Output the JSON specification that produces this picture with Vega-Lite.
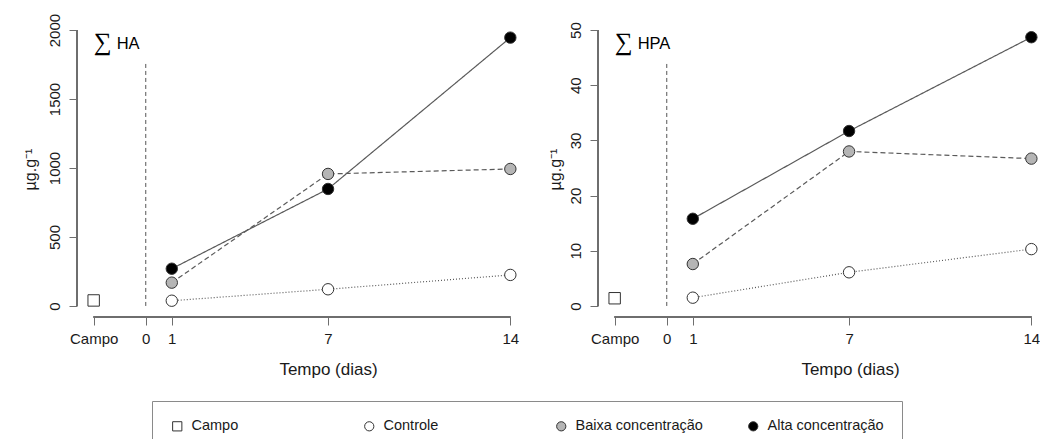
{
  "$schema": "https://vega.github.io/schema/vega-lite/v6.json",
  "background": "white",
  "padding": {"left": 22, "top": 13, "right": 0, "bottom": 0},
  "bounds": "flush",
  "spacing": 71,
  "datasets": {
    "medidas": [
      {"painel": "HA", "grupo": "Campo", "dia": -2, "valor": 40},
      {"painel": "HA", "grupo": "Controle", "dia": 1, "valor": 38},
      {"painel": "HA", "grupo": "Controle", "dia": 7, "valor": 121},
      {"painel": "HA", "grupo": "Controle", "dia": 14, "valor": 225},
      {"painel": "HA", "grupo": "Baixa concentração", "dia": 1, "valor": 169},
      {"painel": "HA", "grupo": "Baixa concentração", "dia": 7, "valor": 957},
      {"painel": "HA", "grupo": "Baixa concentração", "dia": 14, "valor": 993},
      {"painel": "HA", "grupo": "Alta concentração", "dia": 1, "valor": 270},
      {"painel": "HA", "grupo": "Alta concentração", "dia": 7, "valor": 848},
      {"painel": "HA", "grupo": "Alta concentração", "dia": 14, "valor": 1945},
      {"painel": "HPA", "grupo": "Campo", "dia": -2, "valor": 1.4},
      {"painel": "HPA", "grupo": "Controle", "dia": 1, "valor": 1.5},
      {"painel": "HPA", "grupo": "Controle", "dia": 7, "valor": 6.1},
      {"painel": "HPA", "grupo": "Controle", "dia": 14, "valor": 10.3},
      {"painel": "HPA", "grupo": "Baixa concentração", "dia": 1, "valor": 7.6},
      {"painel": "HPA", "grupo": "Baixa concentração", "dia": 7, "valor": 28.0},
      {"painel": "HPA", "grupo": "Baixa concentração", "dia": 14, "valor": 26.7},
      {"painel": "HPA", "grupo": "Alta concentração", "dia": 1, "valor": 15.8},
      {"painel": "HPA", "grupo": "Alta concentração", "dia": 7, "valor": 31.7},
      {"painel": "HPA", "grupo": "Alta concentração", "dia": 14, "valor": 48.7}
    ],
    "guias": [
      {"painel": "HA", "dia": 0, "base": 0, "topo": 1775},
      {"painel": "HPA", "dia": 0, "base": 0, "topo": 44.4}
    ],
    "rotulos": [
      {"painel": "HA", "dia": -2, "valor": 1860, "simbolo": "∑", "nome": "HA"},
      {"painel": "HPA", "dia": -2, "valor": 46.5, "simbolo": "∑", "nome": "HPA"}
    ]
  },
  "config": {
    "view": {"stroke": null},
    "font": "Liberation Sans",
    "axis": {
      "grid": false,
      "domain": false,
      "tickColor": "#6e6e6e",
      "tickSize": 8,
      "tickWidth": 1,
      "labelFont": "Liberation Sans",
      "labelFontSize": 15,
      "labelColor": "#1a1a1a",
      "labelFlush": false,
      "labelOverlap": false,
      "titleFont": "Liberation Sans",
      "titleFontSize": 17,
      "titleFontWeight": "normal",
      "titleColor": "#1a1a1a"
    },
    "legend": {
      "labelFont": "Liberation Sans",
      "labelFontSize": 14.5,
      "labelColor": "#1a1a1a",
      "symbolStrokeWidth": 1,
      "symbolSize": 85,
      "labelOffset": 7,
      "strokeColor": "#8a8a8a",
      "padding": 18,
      "columnPadding": 43,
      "gridAlign": "all"
    }
  },
  "resolve": {
    "scale": {"x": "independent", "y": "independent", "fill": "shared", "shape": "shared", "strokeDash": "shared"},
    "legend": {"fill": "shared", "shape": "shared"}
  },
  "hconcat": [
    {
      "width": 450,
      "height": 298,
      "data": {"name": "medidas"},
      "transform": [{"filter": "datum.painel == 'HA'"}],
      "encoding": {
        "x": {
          "field": "dia", "type": "quantitative",
          "scale": {"domain": [-2.64, 14.64], "nice": false, "zero": false},
          "axis": {
            "values": [-2, 0, 1, 7, 14],
            "labelExpr": "datum.value == -2 ? 'Campo' : datum.label",
            "labelPadding": 6,
            "title": "Tempo (dias)",
            "titleX": 251, "titleY": 57, "titleBaseline": "alphabetic", "titleAlign": "center"
          }
        },
        "y": {
          "field": "valor", "type": "quantitative",
          "scale": {"domain": [-80, 2080], "nice": false, "zero": false},
          "axis": {
            "values": [0, 500, 1000, 1500, 2000],
            "format": "d",
            "labelAngle": 270, "labelAlign": "center", "labelBaseline": "alphabetic", "labelPadding": 10,
            "title": "µg.g⁻¹",
            "titleFontSize": 16,
            "titleX": -42, "titleY": 150, "titleAngle": 270, "titleAlign": "center", "titleBaseline": "alphabetic"
          }
        }
      },
      "layer": [
        {
          "mark": {"type": "rule", "color": "#6e6e6e", "strokeWidth": 1},
          "encoding": {
            "x": {"datum": -2.64, "type": "quantitative"},
            "y": {"datum": 0, "type": "quantitative"},
            "y2": {"datum": 2000}
          }
        },
        {
          "mark": {"type": "rule", "color": "#6e6e6e", "strokeWidth": 1},
          "encoding": {
            "x": {"datum": -2, "type": "quantitative"},
            "x2": {"datum": 14},
            "y": {"datum": -80, "type": "quantitative"}
          }
        },
        {
          "data": {"name": "guias"},
          "transform": [{"filter": "datum.painel == 'HA'"}],
          "mark": {"type": "rule", "color": "#555555", "strokeWidth": 1, "strokeDash": [4, 3]},
          "encoding": {
            "x": {"field": "dia", "type": "quantitative"},
            "y": {"field": "base", "type": "quantitative"},
            "y2": {"field": "topo"}
          }
        },
        {
          "transform": [{"filter": "datum.grupo != 'Campo'"}],
          "mark": {"type": "line", "color": "#5a5a5a", "strokeWidth": 1.2},
          "encoding": {
            "detail": {"field": "grupo"},
            "strokeDash": {
              "field": "grupo", "type": "nominal",
              "scale": {"domain": ["Controle", "Baixa concentração", "Alta concentração"], "range": [[1, 2], [5, 3], [1, 0]]},
              "legend": null
            }
          }
        },
        {
          "mark": {"type": "point", "filled": true, "size": 130, "stroke": "#333333", "strokeWidth": 1, "opacity": 1},
          "encoding": {
            "shape": {
              "field": "grupo", "type": "nominal",
              "scale": {"domain": ["Campo", "Controle", "Baixa concentração", "Alta concentração"], "range": ["square", "circle", "circle", "circle"]},
              "legend": {"title": null, "orient": "none", "legendX": 75, "legendY": 382, "direction": "horizontal", "columns": 4}
            },
            "fill": {
              "field": "grupo", "type": "nominal",
              "scale": {"domain": ["Campo", "Controle", "Baixa concentração", "Alta concentração"], "range": ["#ffffff", "#ffffff", "#b5b5b5", "#000000"]},
              "legend": {"title": null, "orient": "none", "legendX": 75, "legendY": 382, "direction": "horizontal", "columns": 4}
            }
          }
        },
        {
          "data": {"name": "rotulos"},
          "transform": [{"filter": "datum.painel == 'HA'"}],
          "mark": {"type": "text", "align": "left", "baseline": "alphabetic", "fontSize": 25, "fontWeight": 200, "font": "DejaVu Sans", "color": "#000000", "dy": 1},
          "encoding": {
            "x": {"field": "dia", "type": "quantitative"},
            "y": {"field": "valor", "type": "quantitative"},
            "text": {"field": "simbolo"}
          }
        },
        {
          "data": {"name": "rotulos"},
          "transform": [{"filter": "datum.painel == 'HA'"}],
          "mark": {"type": "text", "align": "left", "baseline": "alphabetic", "fontSize": 16.5, "font": "Liberation Sans", "color": "#000000", "dx": 23},
          "encoding": {
            "x": {"field": "dia", "type": "quantitative"},
            "y": {"field": "valor", "type": "quantitative"},
            "text": {"field": "nome"}
          }
        }
      ]
    },
    {
      "width": 443,
      "height": 298,
      "data": {"name": "medidas"},
      "transform": [{"filter": "datum.painel == 'HPA'"}],
      "encoding": {
        "x": {
          "field": "dia", "type": "quantitative",
          "scale": {"domain": [-2.64, 14.37], "nice": false, "zero": false},
          "axis": {
            "values": [-2, 0, 1, 7, 14],
            "labelExpr": "datum.value == -2 ? 'Campo' : datum.label",
            "labelPadding": 6,
            "title": "Tempo (dias)",
            "titleX": 252, "titleY": 57, "titleBaseline": "alphabetic", "titleAlign": "center"
          }
        },
        "y": {
          "field": "valor", "type": "quantitative",
          "scale": {"domain": [-2, 52], "nice": false, "zero": false},
          "axis": {
            "values": [0, 10, 20, 30, 40, 50],
            "format": "d",
            "labelAngle": 270, "labelAlign": "center", "labelBaseline": "alphabetic", "labelPadding": 10,
            "title": "µg.g⁻¹",
            "titleFontSize": 16,
            "titleX": -38, "titleY": 150, "titleAngle": 270, "titleAlign": "center", "titleBaseline": "alphabetic"
          }
        }
      },
      "layer": [
        {
          "mark": {"type": "rule", "color": "#6e6e6e", "strokeWidth": 1},
          "encoding": {
            "x": {"datum": -2.64, "type": "quantitative"},
            "y": {"datum": 0, "type": "quantitative"},
            "y2": {"datum": 50}
          }
        },
        {
          "mark": {"type": "rule", "color": "#6e6e6e", "strokeWidth": 1},
          "encoding": {
            "x": {"datum": -2, "type": "quantitative"},
            "x2": {"datum": 14},
            "y": {"datum": -2, "type": "quantitative"}
          }
        },
        {
          "data": {"name": "guias"},
          "transform": [{"filter": "datum.painel == 'HPA'"}],
          "mark": {"type": "rule", "color": "#555555", "strokeWidth": 1, "strokeDash": [4, 3]},
          "encoding": {
            "x": {"field": "dia", "type": "quantitative"},
            "y": {"field": "base", "type": "quantitative"},
            "y2": {"field": "topo"}
          }
        },
        {
          "transform": [{"filter": "datum.grupo != 'Campo'"}],
          "mark": {"type": "line", "color": "#5a5a5a", "strokeWidth": 1.2},
          "encoding": {
            "detail": {"field": "grupo"},
            "strokeDash": {
              "field": "grupo", "type": "nominal",
              "scale": {"domain": ["Controle", "Baixa concentração", "Alta concentração"], "range": [[1, 2], [5, 3], [1, 0]]},
              "legend": null
            }
          }
        },
        {
          "mark": {"type": "point", "filled": true, "size": 130, "stroke": "#333333", "strokeWidth": 1, "opacity": 1},
          "encoding": {
            "shape": {
              "field": "grupo", "type": "nominal",
              "scale": {"domain": ["Campo", "Controle", "Baixa concentração", "Alta concentração"], "range": ["square", "circle", "circle", "circle"]},
              "legend": {"title": null, "orient": "none", "legendX": 75, "legendY": 382, "direction": "horizontal", "columns": 4}
            },
            "fill": {
              "field": "grupo", "type": "nominal",
              "scale": {"domain": ["Campo", "Controle", "Baixa concentração", "Alta concentração"], "range": ["#ffffff", "#ffffff", "#b5b5b5", "#000000"]},
              "legend": {"title": null, "orient": "none", "legendX": 75, "legendY": 382, "direction": "horizontal", "columns": 4}
            }
          }
        },
        {
          "data": {"name": "rotulos"},
          "transform": [{"filter": "datum.painel == 'HPA'"}],
          "mark": {"type": "text", "align": "left", "baseline": "alphabetic", "fontSize": 25, "fontWeight": 200, "font": "DejaVu Sans", "color": "#000000", "dy": 1},
          "encoding": {
            "x": {"field": "dia", "type": "quantitative"},
            "y": {"field": "valor", "type": "quantitative"},
            "text": {"field": "simbolo"}
          }
        },
        {
          "data": {"name": "rotulos"},
          "transform": [{"filter": "datum.painel == 'HPA'"}],
          "mark": {"type": "text", "align": "left", "baseline": "alphabetic", "fontSize": 16.5, "font": "Liberation Sans", "color": "#000000", "dx": 23},
          "encoding": {
            "x": {"field": "dia", "type": "quantitative"},
            "y": {"field": "valor", "type": "quantitative"},
            "text": {"field": "nome"}
          }
        }
      ]
    }
  ]
}
